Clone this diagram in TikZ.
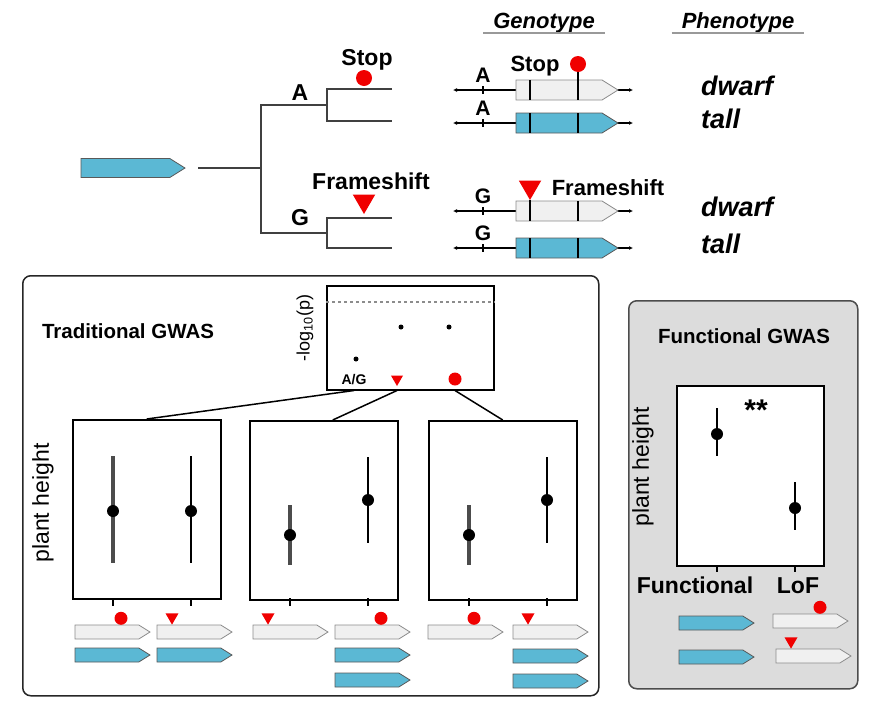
\documentclass[tikz,border=0pt]{standalone}
\usepackage{fontspec}
\setmainfont{Liberation Sans}
\usepackage{tikz}
\usetikzlibrary{positioning,shapes.symbols,shapes.geometric,arrows.meta}
\definecolor{geneblue}{HTML}{5BB8D4}
\definecolor{genewhite}{HTML}{F0F0F0}
\definecolor{panelgray}{HTML}{DCDCDC}
\definecolor{stopred}{HTML}{F00000}

\begin{document}
\begin{tikzpicture}[x=1pt,y=-1pt,
    gene/.style={signal,signal to=east,signal pointer angle=64,draw=black!65,line width=0.8pt,inner sep=0,outer sep=0,minimum width=75pt,minimum height=14pt,anchor=west},
    fgene/.style={gene,fill=geneblue},
    lgene/.style={gene,fill=genewhite,draw=black!45},
    stopm/.style={circle,fill=stopred,inner sep=0,minimum size=13pt},
    fsm/.style={regular polygon,regular polygon sides=3,shape border rotate=180,fill=stopred,inner sep=0,minimum size=15pt},
    branch/.style={draw=black!75,line width=1.6pt},
    dna/.style={line width=1.2pt,{Latex[length=4pt,width=4pt]}-{Latex[length=4pt,width=4pt]}},
    exon/.style={line width=1.2pt},
    uline/.style={draw=black!40,line width=1.5pt},
    lbl/.style={inner sep=0,anchor=base,font=\bfseries\fontsize{23}{26}\selectfont},
    head/.style={lbl,font=\bfseries\itshape\fontsize{22}{26}\selectfont},
    pheno/.style={lbl,anchor=base west,font=\bfseries\itshape\fontsize{27}{30}\selectfont},
    ptitle/.style={lbl,font=\bfseries\fontsize{20.5}{24}\selectfont},
    ylab/.style={inner sep=0,rotate=90,font=\fontsize{23}{26}\selectfont},
    plotbox/.style={draw,line width=1.5pt,fill=white,inner sep=0,minimum width=148pt,minimum height=179pt,anchor=north west},
    panel/.style={draw=black!85,line width=1.5pt,rounded corners=8pt,inner sep=0,anchor=north west},
    dot/.style={circle,fill=black,inner sep=0,minimum size=12pt},
    sd/.style={line width=4pt,draw=black!70},
    se/.style={line width=2.5pt},
    tickm/.style={line width=1.5pt},
    link/.style={line width=1.5pt}
  ]
  \useasboundingbox (0,0) rectangle (882,710);

  \node[fgene,minimum width=104pt,minimum height=19pt] (anc) at (81,168) {};
  \coordinate (j0) at (261,168);
  \coordinate (jA) at (327,105);
  \coordinate (jG) at (327,233);
  \coordinate (tA1) at (392,89);
  \coordinate (tA2) at (392,121);
  \coordinate (tG1) at (392,218);
  \coordinate (tG2) at (392,248);
  \draw[branch] ([xshift=13pt]anc.east) -- (j0);
  \draw[branch] (jA) -| (j0) |- (jG);
  \draw[branch] (tA1) -| (jA) |- (tA2);
  \draw[branch] (tG1) -| (jG) |- (tG2);
  \node[lbl] (lA) at (300,100) {A};
  \node[lbl] (lG) at (300,225) {G};
  \node[stopm,minimum size=16pt] (stT) at (364,78) {};
  \node[lbl] (stopT) at (367,65) {Stop};
  \node[fsm,minimum size=26pt] (fsT) at (364,201) {};
  \node[lbl] (fsTl) at (371,189) {Frameshift};

  \node[head] (gt) at (544,28) {Genotype};
  \node[head] (pt) at (738,28) {Phenotype};
  \draw[uline] ([xshift=-10pt]gt.south west) -- ([xshift=10pt]gt.south east);
  \draw[uline] ([xshift=-10pt]pt.south west) -- ([xshift=10pt]pt.south east);

  \foreach \y/\n/\s/\a/\p in {90/1/lgene/A/dwarf,123/2/fgene/A/tall,211/3/lgene/G/dwarf,248/4/fgene/G/tall}{
    \coordinate (r\n-a) at (453,\y);
    \coordinate (r\n-b) at (633,\y);
    \draw[dna] (r\n-a) -- (r\n-b);
    \draw[exon] (483,\y-4) -- (483,\y+4);
    \node[\s,minimum width=102pt,minimum height=20pt] (g\n) at (516,\y) {};
    \draw[exon] ([xshift=14pt,yshift=10pt]g\n.west) -- ([xshift=14pt,yshift=-10pt]g\n.west);
    \draw[exon] ([xshift=62pt,yshift=10pt]g\n.west) -- ([xshift=62pt,yshift=-10pt]g\n.west);
    \node[lbl,font=\bfseries\fontsize{21}{24}\selectfont] (al\n) at (483,\y-8) {\a};
    \node[pheno] (ph\n) at (701,\y+5) {\p};
  }
  \node[stopm,minimum size=16pt] (stG) at (578,64) {};
  \draw[exon] (stG.south) -- ([xshift=62pt,yshift=-10pt]g1.west);
  \node[lbl,font=\bfseries\fontsize{22}{26}\selectfont] (stopG) at (535,71) {Stop};
  \node[fsm,minimum size=26pt] (fsG) at (530,187) {};
  \draw[exon] (fsG.south) -- ([xshift=14pt,yshift=-10pt]g3.west);
  \node[lbl,font=\bfseries\fontsize{22}{26}\selectfont] (fsGl) at (608,195) {Frameshift};

  \node[panel,minimum width=576pt,minimum height=420pt] (trad) at (22,275) {};
  \node[ptitle] (tradl) at (128,338) {Traditional GWAS};
  \node[plotbox,minimum width=167pt,minimum height=104pt] (manh) at (326,285) {};
  \draw[draw=black!45,line width=1.2pt,dashed] ([yshift=-17pt]manh.north west) -- ([yshift=-17pt]manh.north east);
  \node[dot,minimum size=5pt] (m1) at (356,359) {};
  \node[dot,minimum size=5pt] (m2) at (401,327) {};
  \node[dot,minimum size=5pt] (m3) at (449,327) {};
  \node[lbl,font=\bfseries\fontsize{14}{16}\selectfont] (ag) at (354,384) {A/G};
  \node[fsm,minimum size=14pt] (fsM) at (397,379) {};
  \node[stopm,minimum size=13pt] (stM) at (455,379) {};
  \node[inner sep=0,rotate=90,font=\fontsize{18}{20}\selectfont] (logp) at (305,328) {-log\textsubscript{10}(p)};

  \node[plotbox] (p1) at (72,419) {};
  \node[plotbox] (p2) at (249,420) {};
  \node[plotbox] (p3) at (428,420) {};
  \draw[link] (ag.south |- manh.south) -- (p1.north);
  \draw[link] (fsM.south |- manh.south) -- ([xshift=9pt]p2.north);
  \draw[link] (stM.south |- manh.south) -- (p3.north);
  \node[ylab] (yl1) at (43,503) {plant height};

  \foreach \x/\y/\t/\b/\s in {113/511/456/563/sd,191/511/456/563/se,290/535/505/565/sd,368/500/457/543/se,469/535/505/565/sd,547/500/457/543/se}{
    \draw[\s] (\x,\t) -- (\x,\b);
    \node[dot] (d\x) at (\x,\y) {};
    \draw[tickm] (\x,598) -- (\x,606);
  }

  \foreach \x/\n in {75/w1,157/w2,253/w3,335/w4,428/w5,513/w6}
    \node[lgene] (\n) at (\x,632) {};
  \foreach \x/\y/\n in {75/655/b1,157/655/b2,335/655/b3,335/680/b4,513/656/b5,513/681/b6}
    \node[fgene] (\n) at (\x,\y) {};
  \foreach \n in {w1,w4,w5}
    \node[stopm,anchor=south] (s-\n) at ([xshift=46pt,yshift=7pt]\n.west) {};
  \foreach \n in {w2,w3,w6}
    \node[fsm,anchor=south] (f-\n) at ([xshift=15pt,yshift=7pt]\n.west) {};

  \node[panel,fill=panelgray,draw=black!70,minimum width=229pt,minimum height=388pt] (func) at (628,300) {};
  \node[ptitle] (funcl) at (744,343) {Functional GWAS};
  \node[plotbox,minimum width=147pt,minimum height=180pt] (fp) at (676,385) {};
  \node[ylab] (yl2) at (643,467) {plant height};
  \foreach \x/\y/\t/\b in {717/434/408/456,795/508/482/530}{
    \draw[se] (\x,\t) -- (\x,\b);
    \node[dot] (fd\x) at (\x,\y) {};
    \draw[tickm] (\x,565) -- (\x,572);
  }
  \node[lbl,font=\bfseries\fontsize{30}{32}\selectfont] (sig) at (756,420) {**};
  \node[lbl] (fnl) at (695,593) {Functional};
  \node[lbl] (lofl) at (798,593) {LoF};
  \node[fgene] (fb1) at (679,623) {};
  \node[fgene] (fb2) at (679,657) {};
  \node[lgene] (fw1) at (773,621) {};
  \node[lgene] (fw2) at (776,656) {};
  \node[stopm,anchor=south] (fs1) at ([xshift=47pt,yshift=7pt]fw1.west) {};
  \node[fsm,anchor=south] (ff2) at ([xshift=15pt,yshift=7pt]fw2.west) {};
\end{tikzpicture}
\end{document}
